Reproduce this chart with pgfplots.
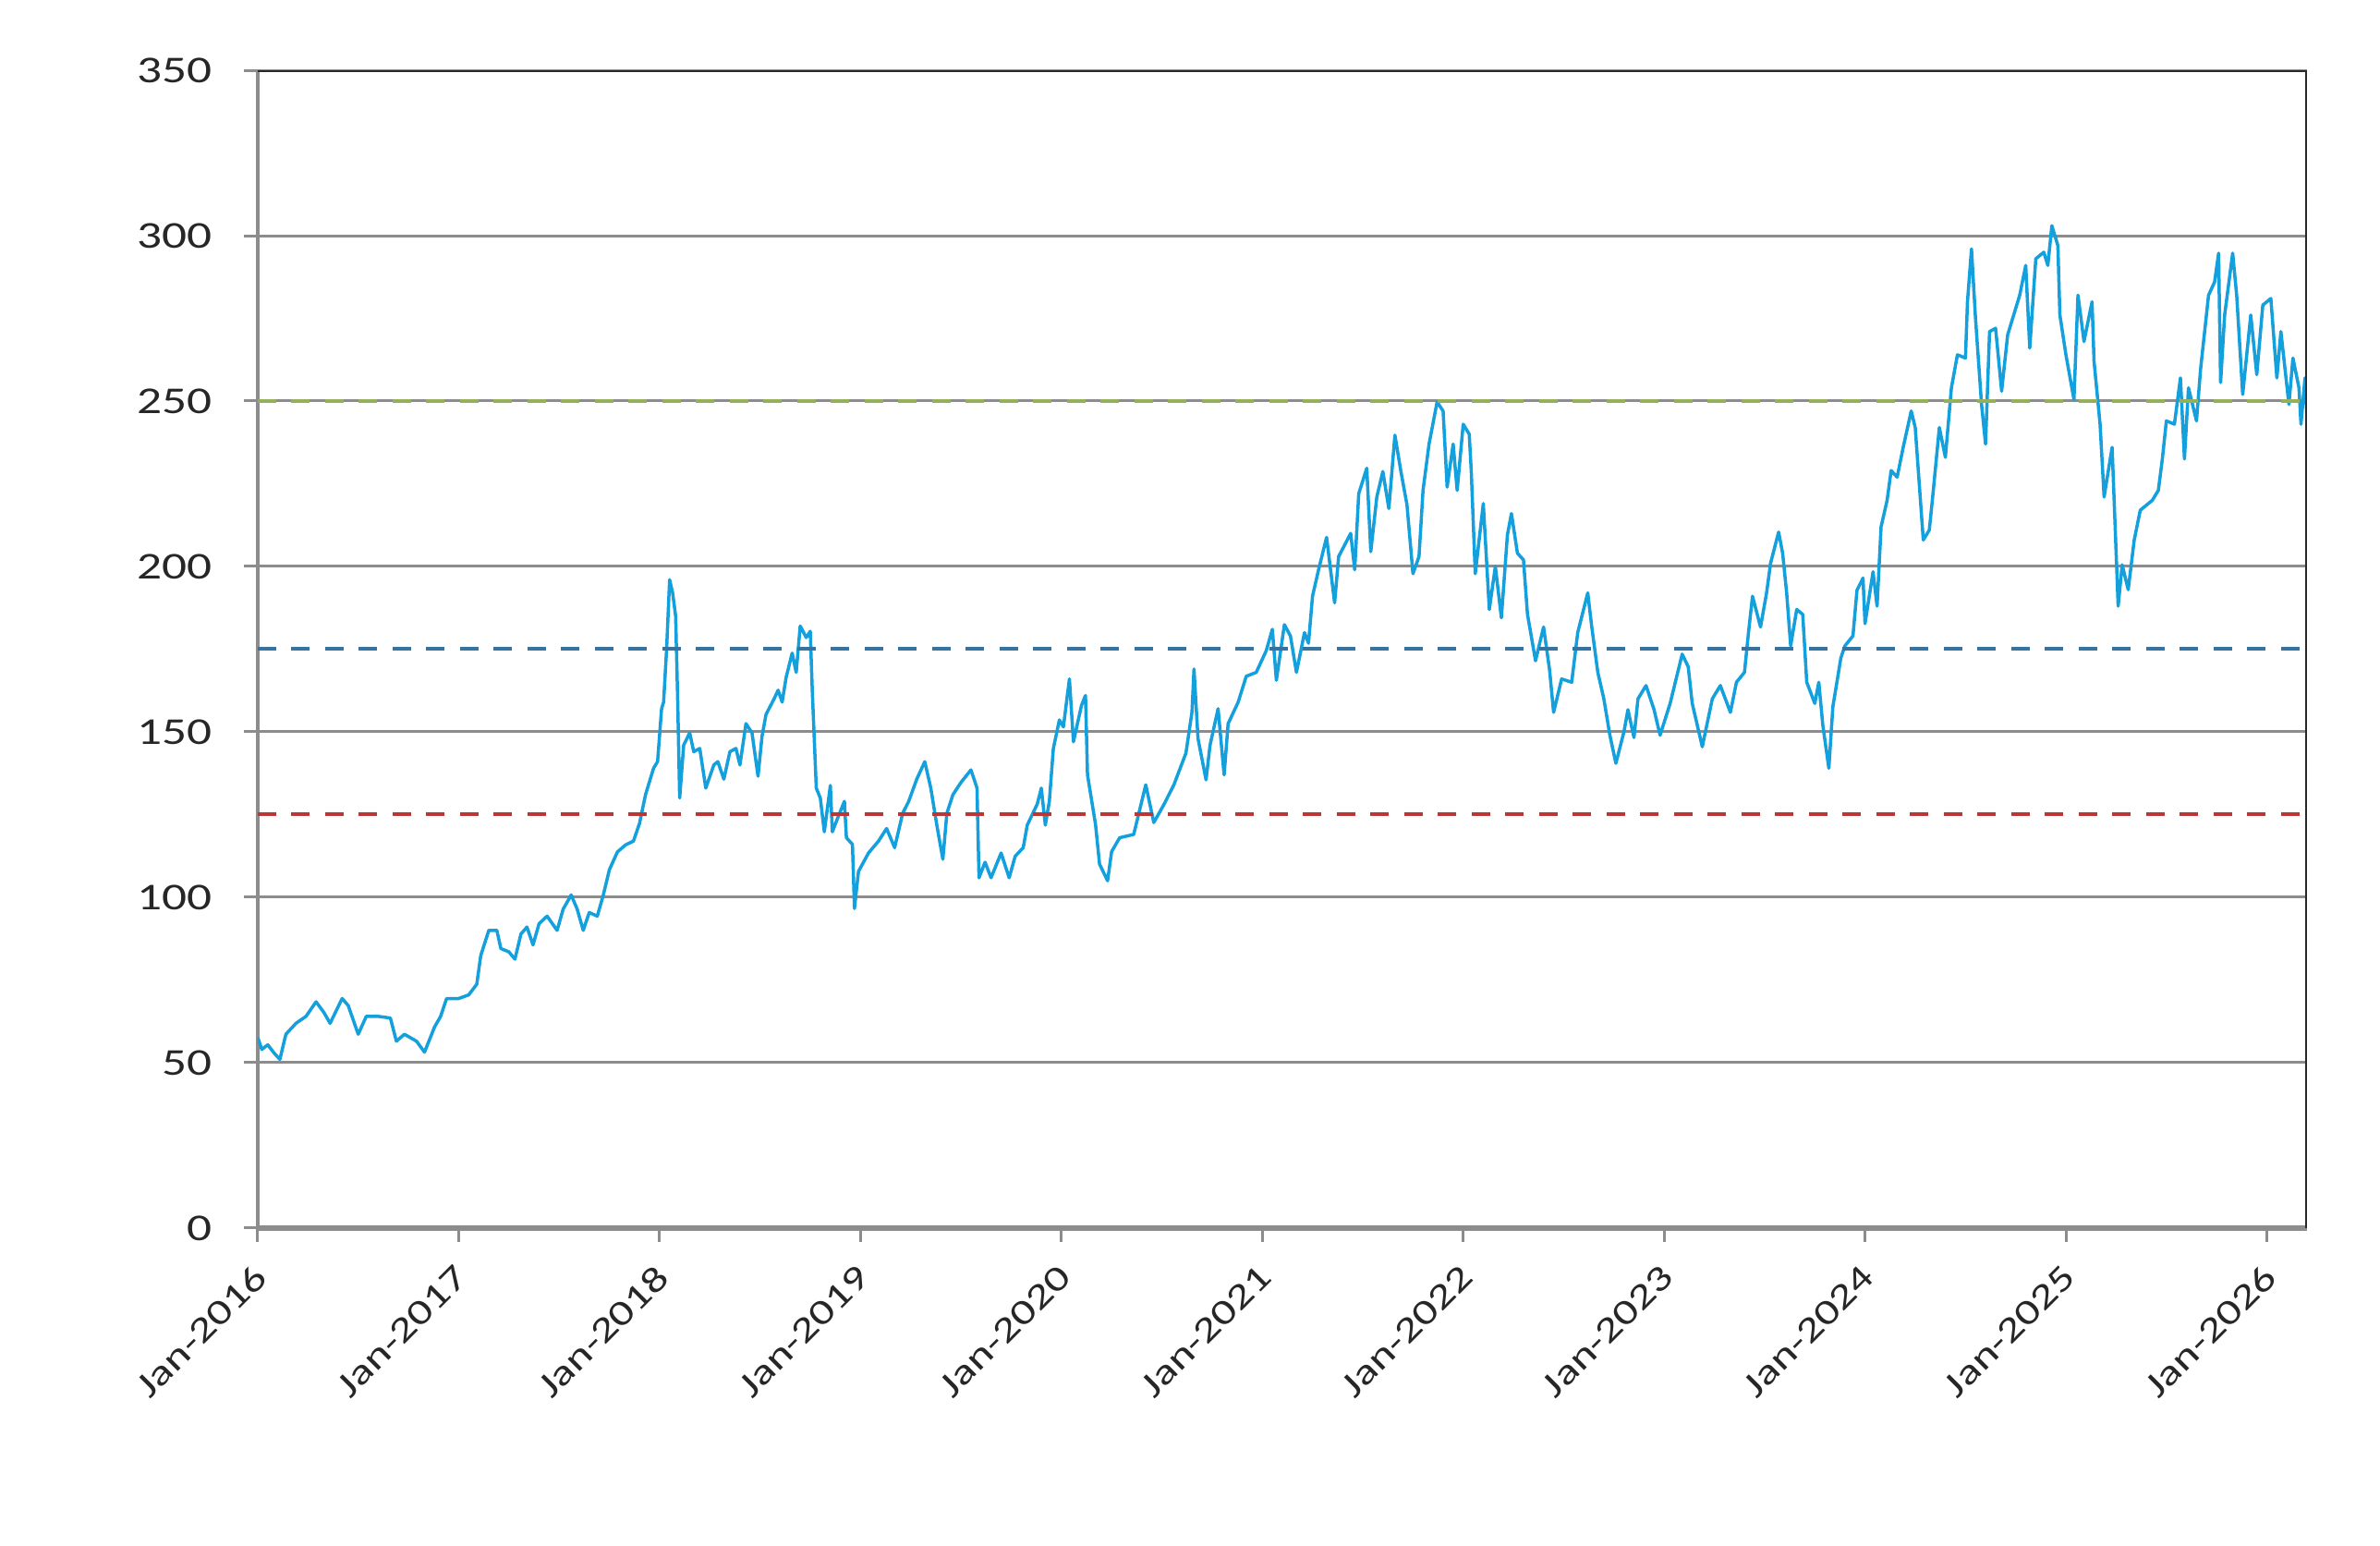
\documentclass[border=0pt]{standalone}
\usepackage{fontspec}
\setmainfont[FakeStretch=1.3]{Carlito}
\usepackage{pgfplots}
\pgfplotsset{compat=1.18}
\usepackage{pgfplotstable}
\definecolor{series}{RGB}{20,160,220}
\definecolor{gridc}{RGB}{140,140,140}
\definecolor{frame}{RGB}{40,40,40}
\definecolor{refgreen}{RGB}{150,175,90}
\definecolor{refblue}{RGB}{55,115,160}
\definecolor{refred}{RGB}{185,55,55}

\pgfplotstableread{
yr val
2016.000 57.6
2016.020 54
2016.050 55.4
2016.080 53
2016.110 51
2016.140 58.6
2016.190 61.9
2016.240 64
2016.290 68.4
2016.330 65.1
2016.360 61.9
2016.420 69.4
2016.450 67.3
2016.500 58.6
2016.540 64
2016.600 64
2016.660 63.5
2016.690 56.5
2016.730 58.6
2016.790 56.5
2016.830 53.2
2016.880 60.8
2016.910 64
2016.940 69.4
2017.000 69.4
2017.050 70.5
2017.090 73.7
2017.110 82.4
2017.150 90
2017.190 90
2017.210 84.5
2017.250 83.5
2017.280 81.3
2017.310 88.9
2017.340 91
2017.370 85.6
2017.400 92
2017.440 94.3
2017.490 90
2017.520 96.4
2017.560 100.7
2017.590 96.4
2017.620 90
2017.650 95.4
2017.690 94.3
2017.720 100.7
2017.750 108.3
2017.790 113.7
2017.830 115.8
2017.870 117
2017.900 122.3
2017.930 131
2017.970 139
2017.990 141
2018.010 157
2018.020 159
2018.035 175
2018.050 196
2018.065 192
2018.080 185
2018.090 160
2018.100 130
2018.120 146
2018.150 149.7
2018.170 144
2018.200 145
2018.230 133
2018.270 140
2018.290 141
2018.320 135.7
2018.350 144
2018.380 145
2018.400 140
2018.430 152.5
2018.460 149.7
2018.490 136.6
2018.510 148.7
2018.530 155.3
2018.570 160
2018.590 162.6
2018.610 159
2018.630 166.5
2018.660 173.8
2018.680 168
2018.700 182
2018.730 178.5
2018.750 180.4
2018.760 162.6
2018.780 133
2018.800 130
2018.820 119.8
2018.850 133.8
2018.860 119.8
2018.890 124.5
2018.920 129
2018.930 118
2018.960 116
2018.970 96.6
2018.990 107.8
2019.040 113.4
2019.090 117
2019.130 120.8
2019.170 115
2019.210 125.4
2019.240 129
2019.280 135.7
2019.320 141
2019.350 133
2019.380 121.8
2019.410 111.5
2019.430 125.4
2019.460 131
2019.500 134.7
2019.550 138.5
2019.580 133
2019.590 105.9
2019.620 110.6
2019.650 105.9
2019.700 113.4
2019.740 105.9
2019.770 112.4
2019.810 115
2019.830 121.8
2019.880 128.2
2019.900 133
2019.920 121.8
2019.940 129
2019.960 145
2019.990 153.6
2020.010 151.5
2020.040 166
2020.060 147
2020.100 158
2020.120 161
2020.130 137
2020.170 122
2020.190 110
2020.230 105
2020.250 113.8
2020.290 118
2020.360 119
2020.420 134
2020.460 122.6
2020.510 128
2020.560 134
2020.620 143.6
2020.650 156
2020.660 169
2020.680 148
2020.720 135.5
2020.740 146
2020.780 157
2020.810 137
2020.830 152.5
2020.880 159
2020.920 166.8
2020.970 168
2021.020 174.6
2021.050 181
2021.070 165.6
2021.110 182.4
2021.140 179
2021.170 168
2021.210 180
2021.230 176.8
2021.250 191
2021.280 199
2021.320 208.8
2021.360 189
2021.380 203
2021.440 210
2021.460 199
2021.480 222
2021.520 229.7
2021.540 204.5
2021.570 221
2021.600 228.7
2021.630 217.5
2021.660 239.7
2021.690 228.7
2021.720 218.7
2021.750 197.8
2021.780 203
2021.800 223
2021.830 237
2021.870 249.7
2021.900 247
2021.920 224
2021.950 237
2021.970 223
2022.000 243
2022.030 240
2022.040 229
2022.060 197.8
2022.100 219
2022.130 187
2022.160 200
2022.190 184.5
2022.220 209.5
2022.240 216
2022.270 204
2022.300 202
2022.320 185.5
2022.360 171.5
2022.400 181.7
2022.430 168.7
2022.450 155.9
2022.490 166
2022.540 165
2022.570 180
2022.620 192
2022.640 181.7
2022.670 168
2022.700 160
2022.730 149
2022.760 140.5
2022.800 150
2022.820 156.7
2022.850 148.3
2022.870 160
2022.910 164
2022.950 156.7
2022.980 149
2023.030 158.6
2023.090 173.5
2023.120 169.7
2023.140 158.6
2023.190 145.5
2023.240 160
2023.280 164
2023.330 155.9
2023.360 165
2023.400 168
2023.420 180
2023.440 191
2023.480 181.7
2023.510 192
2023.530 201
2023.570 210.4
2023.590 204
2023.610 192
2023.630 176
2023.660 187
2023.690 185.5
2023.710 165
2023.750 158.6
2023.770 165
2023.790 152
2023.820 139
2023.840 157.6
2023.880 172.4
2023.900 176
2023.940 179
2023.960 192.8
2023.990 196.5
2024.000 182.7
2024.040 198.4
2024.060 188
2024.080 212
2024.110 220
2024.130 229
2024.160 227
2024.190 236
2024.230 247
2024.250 242
2024.290 208
2024.320 211
2024.340 223
2024.370 242
2024.400 233
2024.430 254
2024.460 264
2024.500 263
2024.510 280
2024.530 296
2024.550 275
2024.580 249
2024.600 237
2024.620 271
2024.650 272
2024.680 253
2024.710 270
2024.740 276
2024.770 282
2024.800 291
2024.820 266
2024.850 293
2024.890 295
2024.910 291
2024.930 303
2024.960 297
2024.970 276
2025.000 264
2025.040 250.5
2025.060 282
2025.090 268
2025.130 280
2025.140 262
2025.170 243
2025.190 221
2025.230 236
2025.260 188
2025.280 200.5
2025.310 193
2025.340 208
2025.370 217
2025.430 220
2025.460 223
2025.480 232.5
2025.500 244
2025.540 243
2025.570 257
2025.590 232.5
2025.610 254
2025.650 244
2025.670 259.5
2025.710 282
2025.740 286
2025.760 294.7
2025.770 255.6
2025.790 276
2025.830 294.7
2025.850 282
2025.880 252
2025.920 276
2025.950 258
2025.980 279
2026.020 281
2026.050 257
2026.070 271
2026.110 249
2026.130 263
2026.160 254
2026.170 243
2026.190 257
2026.200 245
}\pricedata

\begin{document}
\begin{tikzpicture}
\useasboundingbox (-55.8pt,-68.8pt) rectangle (459.4pt,265.8pt);
\begin{axis}[
  at={(0,0)}, anchor=south west,
  scale only axis, width=443.6pt, height=250.6pt,
  xmin=2016, xmax=2026.2, ymin=0, ymax=350,
  xtick={2016,2017,2018,2019,2020,2021,2022,2023,2024,2025,2026},
  xticklabels={Jan-2016,Jan-2017,Jan-2018,Jan-2019,Jan-2020,Jan-2021,Jan-2022,Jan-2023,Jan-2024,Jan-2025,Jan-2026},
  ytick={0,50,100,150,200,250,300,350},
  axis x line*=bottom, axis y line*=left,
  x axis line style={gridc, line width=1.1pt},
  y axis line style={gridc, line width=0.7pt},
  ymajorgrids, grid style={gridc, line width=0.6pt},
  tick align=outside, major tick length=3pt,
  tick style={gridc, line width=0.6pt},
  x tick label style={xshift=3.2pt, yshift=-3.9pt, rotate=45, anchor=east, font=\fontsize{7.7}{9}\selectfont, text=black!85},
  y tick label style={xshift=-3.3pt, font=\fontsize{8.2}{9}\selectfont, text=black!85},
  /pgf/number format/assume math mode=true,
  /pgf/number format/.cd, use comma, 1000 sep={},
]
\addplot[series, line width=0.7pt, line join=round] table[x=yr, y=val] {\pricedata};
\addplot[refgreen, line width=0.8pt, dash pattern=on 4pt off 3.3pt] coordinates {(2016,250) (2026.2,250)};
\addplot[refblue, line width=0.8pt, dash pattern=on 4pt off 3.3pt] coordinates {(2016,175) (2026.2,175)};
\addplot[refred, line width=0.8pt, dash pattern=on 4pt off 3.3pt] coordinates {(2016,125) (2026.2,125)};
\draw[frame, line width=0.8pt] (rel axis cs:0,1) -- (rel axis cs:1,1) -- (rel axis cs:1,0);
\end{axis}
\end{tikzpicture}
\end{document}
